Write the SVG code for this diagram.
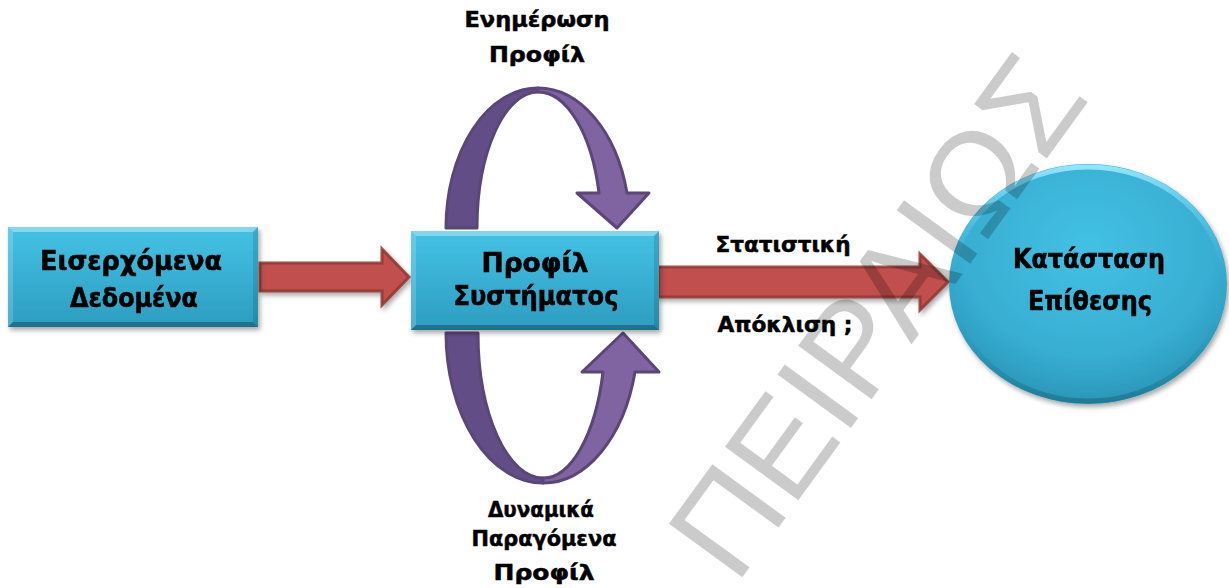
<svg xmlns="http://www.w3.org/2000/svg" width="1229" height="588" viewBox="0 0 1229 588">
  <style>
    .lbl { font-family: "DejaVu Sans", "Liberation Sans", sans-serif; font-weight: bold; font-size: 21px; fill: #000; stroke: #000; stroke-width: 0.5; text-anchor: middle; }
    .ntx { font-family: "DejaVu Sans", "Liberation Sans", sans-serif; font-weight: bold; font-size: 26px; fill: #000; stroke: #000; stroke-width: 0.6; text-anchor: middle; }
    .body { fill: url(#boxFill); }
    .hiT { fill: #ffffff; opacity: 0.35; }
    .hiL { fill: #ffffff; opacity: 0.18; }
    .shR { fill: #000000; opacity: 0.12; }
    .shB { fill: #000000; opacity: 0.28; }
    .red { fill: #c0504d; stroke: #8e3633; stroke-width: 3; stroke-opacity: 0.85; stroke-linejoin: miter; }
    .back { fill: #634d86; stroke: #5a4677; stroke-width: 3; stroke-linejoin: round; }
    .front { fill: #8064a2; stroke: #5a4677; stroke-width: 3; stroke-linejoin: round; }
    .wm { font-family: "Liberation Sans", Arial, sans-serif; font-size: 132px; fill: #000; opacity: 0.2; }
  </style>
  <defs>
    <linearGradient id="boxFill" x1="0" y1="0" x2="0" y2="1">
      <stop offset="0" stop-color="#44c2e5"/>
      <stop offset="1" stop-color="#2c9dc0"/>
    </linearGradient>
    <radialGradient id="ballFill" cx="0.5" cy="0.35" r="0.65">
      <stop offset="0" stop-color="#43c1e4"/>
      <stop offset="0.7" stop-color="#37aed2"/>
      <stop offset="1" stop-color="#2a96b7"/>
    </radialGradient>
    <linearGradient id="rim" x1="0" y1="0" x2="0" y2="1">
      <stop offset="0" stop-color="#9beaff" stop-opacity="0.9"/>
      <stop offset="0.5" stop-color="#3ab4d8" stop-opacity="0"/>
      <stop offset="1" stop-color="#1b6f88" stop-opacity="0.7"/>
    </linearGradient>
    <filter id="shadow" x="-10%" y="-10%" width="125%" height="130%">
      <feDropShadow dx="2" dy="3" stdDeviation="2.5" flood-color="#000" flood-opacity="0.35"/>
    </filter>
  </defs>

  <rect width="1229" height="588" fill="#ffffff"/>

  <!-- connectors -->
  <g id="connectors">
    <path class="red" filter="url(#shadow)" d="M260,263 H382 V249 L409,277 L382,305 V291 H260 Z"/>
    <path class="red" filter="url(#shadow)" d="M658,267 H920 V254 L948,282 L920,310 V297 H658 Z"/>

    <!-- loop above the profile box: darker back half, lighter front half with head -->
    <g id="loop-top">
      <path class="back" d="M446,228 A92,140 0 0 1 538,88 L538,92 A61,136 0 0 0 477,228 Z"/>
      <path class="front" d="M538,88 A92,140 0 0 1 627,193 H649 L617,228 L577,193 H599 A63,136 0 0 0 538,92 Z"/>
    </g>

    <!-- loop below the profile box -->
    <g id="loop-bottom">
      <path class="back" d="M446,333 A97,150 0 0 0 543,483 L543,478 A65,145 0 0 1 478,333 Z"/>
      <path class="front" d="M543,483 A95,150 0 0 0 635,372 H659 L623,333 L582,372 H603 A62,145 0 0 1 543,478 Z"/>
    </g>
  </g>

  <!-- Εισερχόμενα Δεδομένα -->
  <g id="node-input" filter="url(#shadow)">
    <rect class="body" x="8" y="227" width="250" height="100"/>
    <polygon class="hiT" points="8,227 258,227 253,232 13,232"/>
    <polygon class="hiL" points="8,227 13,232 13,322 8,327"/>
    <polygon class="shR" points="258,227 258,327 253,322 253,232"/>
    <polygon class="shB" points="8,327 258,327 253,322 13,322"/>
    <text class="ntx" x="131" y="270" textLength="182" lengthAdjust="spacingAndGlyphs">Εισερχόμενα</text>
    <text class="ntx" x="134" y="307" textLength="128" lengthAdjust="spacingAndGlyphs">Δεδομένα</text>
  </g>

  <!-- Προφίλ Συστήματος -->
  <g id="node-profile" filter="url(#shadow)">
    <rect class="body" x="411" y="231" width="248" height="99"/>
    <polygon class="hiT" points="411,231 659,231 654,236 416,236"/>
    <polygon class="hiL" points="411,231 416,236 416,325 411,330"/>
    <polygon class="shR" points="659,231 659,330 654,325 654,236"/>
    <polygon class="shB" points="411,330 659,330 654,325 416,325"/>
    <text class="ntx" x="535" y="272" textLength="107" lengthAdjust="spacingAndGlyphs">Προφίλ</text>
    <text class="ntx" x="536" y="305" textLength="165" lengthAdjust="spacingAndGlyphs">Συστήματος</text>
  </g>

  <!-- Κατάσταση Επίθεσης -->
  <g id="node-state" filter="url(#shadow)">
    <ellipse cx="1088" cy="284" rx="139" ry="120" fill="url(#ballFill)"/>
    <ellipse cx="1088" cy="284" rx="136" ry="117" fill="none" stroke="url(#rim)" stroke-width="5"/>
    <text class="ntx" x="1089" y="268" textLength="152" lengthAdjust="spacingAndGlyphs">Κατάσταση</text>
    <text class="ntx" x="1090" y="310" textLength="124" lengthAdjust="spacingAndGlyphs">Επίθεσης</text>
  </g>

  <!-- labels -->
  <g id="labels">
    <text class="lbl" x="537" y="27" textLength="145" lengthAdjust="spacingAndGlyphs">Ενημέρωση</text>
    <text class="lbl" x="537" y="62" textLength="96" lengthAdjust="spacingAndGlyphs">Προφίλ</text>
    <text class="lbl" x="783" y="252" textLength="135" lengthAdjust="spacingAndGlyphs">Στατιστική</text>
    <text class="lbl" x="785" y="332" textLength="135" lengthAdjust="spacingAndGlyphs">Απόκλιση ;</text>
    <text class="lbl" x="541" y="517" textLength="106" lengthAdjust="spacingAndGlyphs">Δυναμικά</text>
    <text class="lbl" x="544" y="546" textLength="145" lengthAdjust="spacingAndGlyphs">Παραγόμενα</text>
    <text class="lbl" x="544" y="580" textLength="101" lengthAdjust="spacingAndGlyphs">Προφίλ</text>
  </g>

  <!-- diagonal watermark -->
  <text class="wm" transform="translate(736,586) rotate(-54)">ΠΕΙΡΑΙΩΣ</text>
</svg>
